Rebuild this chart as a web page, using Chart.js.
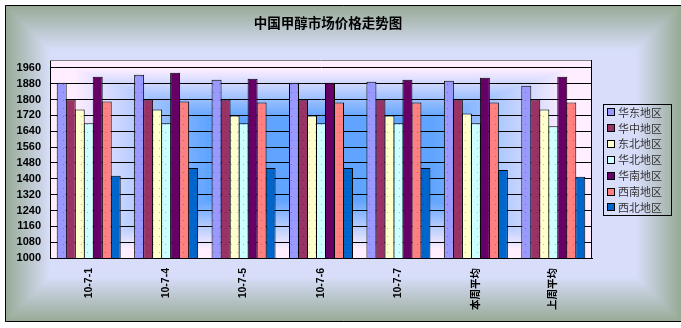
<!DOCTYPE html>
<html>
<head>
<meta charset="utf-8">
<script src="https://cdn.jsdelivr.net/npm/chart.js@4.4.0/dist/chart.umd.min.js"></script>
<style>
  body { margin: 0; background: #fff; }
  canvas { display: block; }
</style>
</head>
<body>
<canvas id="priceChart" width="681" height="328"></canvas>
<script>
const title = '中国甲醇市场价格走势图';
const categories = ['10-7-1', '10-7-4', '10-7-5', '10-7-6', '10-7-7', '本周平均', '上周平均'];
const regions = ['华东地区', '华中地区', '东北地区', '华北地区', '华南地区', '西南地区', '西北地区'];

const eastChina    = [1885, 1925, 1900, 1885, 1890, 1895, 1870];
const centralChina = [1800, 1800, 1800, 1800, 1800, 1800, 1800];
const northeast    = [1750, 1750, 1720, 1720, 1720, 1730, 1750];
const northChina   = [1680, 1680, 1680, 1680, 1680, 1680, 1665];
const southChina   = [1915, 1935, 1905, 1885, 1900, 1910, 1915];
const southwest    = [1790, 1790, 1785, 1785, 1785, 1785, 1785];
const northwest    = [1415, 1455, 1455, 1455, 1455, 1445, 1410];

const yTicks = [1000, 1080, 1160, 1240, 1320, 1400, 1480, 1560, 1640, 1720, 1800, 1880, 1960];

const regionColors = ['#9999ff', '#993366', '#ffffcc', '#ccffff', '#660066', '#ff8080', '#0066cc'];
const seriesData = [eastChina, centralChina, northeast, northChina, southChina, southwest, northwest];

// excel-ish dotted fill
function dotted(color) {
  const tile = document.createElement('canvas');
  tile.width = 6;
  tile.height = 8;
  const c = tile.getContext('2d');
  c.fillStyle = color;
  c.fillRect(0, 0, 6, 8);
  c.fillStyle = 'rgba(0,0,0,0.25)';
  c.fillRect(3, 4, 1, 1);
  return c.createPattern(tile, 'repeat');
}

function mix(a, b, t) {
  const r = a.map((v, i) => Math.round(v + (b[i] - v) * t));
  return `rgb(${r[0]},${r[1]},${r[2]})`;
}

const backdrop = {
  id: 'backdrop',
  beforeDraw(chart) {
    const ctx = chart.ctx;
    ctx.save();
    // outer area: grey-green edges fading to lavender
    const grey = [152, 170, 150], lav = [216, 222, 250];
    const x0 = 5, y0 = 5, x1 = chart.width, y1 = 322;
    for (let d = 0; d <= 45; d++) {
      ctx.fillStyle = mix(grey, lav, d / 45);
      ctx.fillRect(x0 + d, y0 + d, x1 - x0 - 2 * d, y1 - y0 - 2 * d);
    }
    // plot area: blue in the centre, pinkish white at the edges
    const a = chart.chartArea;
    const hw = (a.right - a.left) / 2, hh = (a.bottom - a.top) / 2;
    const blue = [96, 164, 255], pink = [255, 238, 255];
    const N = 80;
    for (let i = 0; i <= N; i++) {
      const t = 1 - i / N;
      const k = Math.min(1, Math.max(0, (t - 0.42) / 0.5));
      ctx.fillStyle = mix(blue, pink, k);
      ctx.fillRect(a.left + hw * i / N, a.top + hh * i / N, 2 * hw * t, 2 * hh * t);
    }
    ctx.restore();
  },
  afterDraw(chart) {
    const ctx = chart.ctx;
    const a = chart.chartArea;
    ctx.save();
    // frame
    ctx.strokeStyle = '#000';
    ctx.lineWidth = 1;
    ctx.beginPath();
    ctx.moveTo(chart.width, 5.5);
    ctx.lineTo(5.5, 5.5);
    ctx.lineTo(5.5, 321.5);
    ctx.lineTo(chart.width, 321.5);
    ctx.stroke();
    // plot border top / right
    ctx.strokeStyle = '#808080';
    ctx.beginPath();
    ctx.moveTo(a.left, a.top + 0.5);
    ctx.lineTo(a.right - 0.5, a.top + 0.5);
    ctx.stroke();
    ctx.strokeStyle = '#000';
    ctx.beginPath();
    ctx.moveTo(a.right - 0.5, a.top);
    ctx.lineTo(a.right - 0.5, a.bottom);
    ctx.stroke();

    // title
    ctx.fillStyle = '#000';
    ctx.font = 'bold 13.5px "Noto Sans CJK SC"';
    ctx.textAlign = 'center';
    ctx.textBaseline = 'middle';
    ctx.fillText(title, 328, 23);

    // legend
    ctx.strokeStyle = '#000';
    ctx.strokeRect(603.5, 104.5, 68, 111);
    ctx.font = '11px "Noto Sans CJK SC"';
    ctx.textAlign = 'left';
    chart.data.datasets.forEach((ds, i) => {
      const cy = 112 + i * 15.9;
      ctx.fillStyle = regionColors[i];
      ctx.fillRect(607, Math.round(cy) - 3, 7, 7);
      ctx.strokeRect(607.5, Math.round(cy) - 3.5, 7, 7);
      ctx.fillStyle = '#333';
      ctx.fillText(ds.label, 618, cy + 0.5);
    });
    ctx.restore();
  }
};

new Chart(document.getElementById('priceChart'), {
  type: 'bar',
  data: {
    labels: categories,
    datasets: regions.map((name, i) => ({
      label: name,
      data: seriesData[i],
      backgroundColor: dotted(regionColors[i]),
      borderColor: '#000',
      borderWidth: 1,
      borderSkipped: false,
      categoryPercentage: 0.8137,
      barPercentage: 1.111
    }))
  },
  options: {
    responsive: false,
    animation: false,
    layout: { padding: { top: 60, left: 5, right: 89, bottom: 7 } },
    plugins: {
      legend: { display: false },
      title: { display: false },
      tooltip: { enabled: false }
    },
    scales: {
      x: {
        afterFit(scale) { scale.height = 63; },
        grid: { display: false, drawTicks: false },
        border: { display: true, color: '#000', width: 1 },
        ticks: {
          minRotation: 90,
          maxRotation: 90,
          padding: 10,
          color: '#000',
          font: { family: '"Liberation Sans", "Noto Sans CJK SC"', size: 10.5, weight: 'bold' }
        }
      },
      y: {
        min: 1000,
        max: 2000,
        afterFit(scale) { scale.width = 45; },
        afterBuildTicks(scale) { scale.ticks = yTicks.map(v => ({ value: v })); },
        grid: { color: '#000', lineWidth: 1, drawTicks: false },
        border: { display: true, color: '#000', width: 1 },
        ticks: {
          padding: 9,
          color: '#000',
          callback: v => String(v),
          font: { family: '"Liberation Sans"', size: 11, weight: 'bold' }
        }
      }
    }
  },
  plugins: [backdrop]
});
</script>
</body>
</html>
